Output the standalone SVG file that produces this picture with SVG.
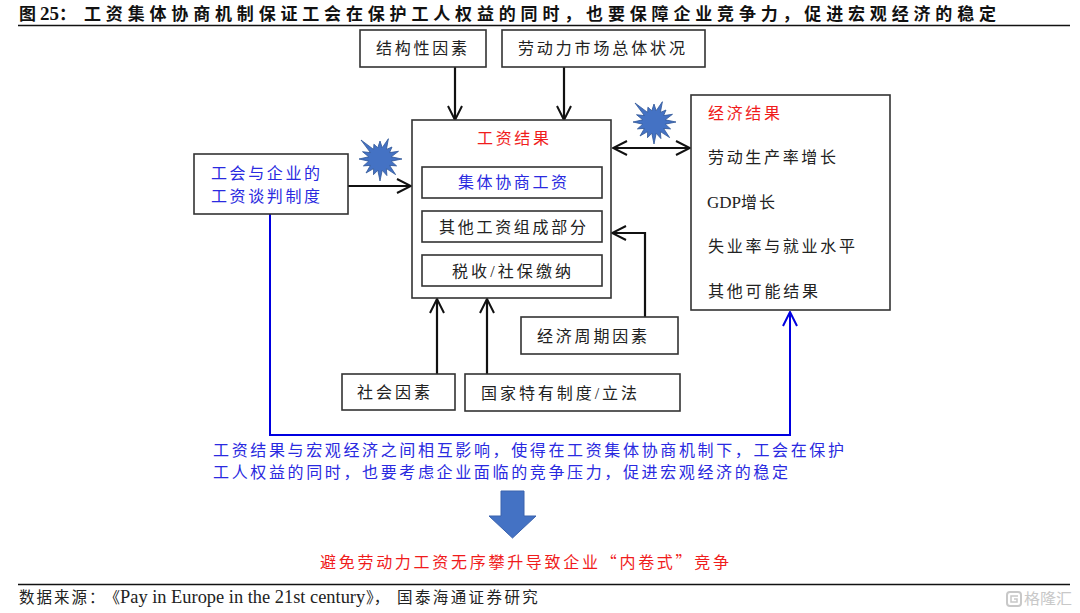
<svg xmlns="http://www.w3.org/2000/svg" xmlns:xlink="http://www.w3.org/1999/xlink" width="1080" height="613" viewBox="0 0 1080 613">
<style>
text{font-family:"Liberation Serif","Noto Sans CJK SC",serif;font-size:16px;fill:#222}
.title{font-size:17px;font-weight:700;fill:#111}
.box{fill:#fff;stroke:#333;stroke-width:1.6}
.blue{fill:#2a2ae0}.red{fill:#f01c1c}
.con{fill:none;stroke:#111;stroke-width:2.2}
.rule{stroke:#111;stroke-width:1.6}
.star{fill:#4472c4;stroke:#2f5597;stroke-width:.8}
.cjk{font-family:"Noto Sans CJK SC",sans-serif}
</style>
<defs>
<marker id="a" viewBox="0 0 16 16" refX="15" refY="8" markerWidth="16" markerHeight="16" markerUnits="userSpaceOnUse" orient="auto-start-reverse"><path d="M1 1L15 8L1 15" fill="none" stroke="#111" stroke-width="2"/></marker>
<marker id="b" viewBox="0 0 16 16" refX="15" refY="8" markerWidth="16" markerHeight="16" markerUnits="userSpaceOnUse" orient="auto"><path d="M1 1L15 8L1 15" fill="none" stroke="#0000e0" stroke-width="2"/></marker>
<polygon id="burst" class="star" points="22,0 11.3,2.2 16.6,6.9 9.6,6.4 15.6,15.6 6.4,9.6 6.9,16.6 2.2,11.3 0,22 -2.2,11.3 -6.5,15.7 -6.4,9.6 -14,14 -9.6,6.4 -16.6,6.9 -11.3,2.2 -21,0 -11.3,-2.2 -17.5,-7.3 -9.6,-6.4 -19,-19 -6.4,-9.6 -6.1,-14.8 -2.2,-11.3 0,-18 2.2,-11.3 8.4,-20.3 6.4,-9.6 12,-12 9.6,-6.4 18.5,-7.7 11.3,-2.2"/>
</defs>
<g id="header">
<text class="title" y="19.5"><tspan x="19">图</tspan><tspan x="40" style="font-size:19px">25</tspan><tspan x="59" class="cjk">&#xFF1A;</tspan></text>
<text class="title cjk" x="84" y="19.5" textLength="912" lengthAdjust="spacing">工资集体协商机制保证工会在保护工人权益的同时&#xFF0C;也要保障企业竞争力&#xFF0C;促进宏观经济的稳定</text>
<line class="rule" x1="18" y1="25.5" x2="1070" y2="25.5"/>
</g>
<g id="connectors">
<path class="con" d="M455 67V120" marker-end="url(#a)"/>
<path class="con" d="M564 67V120" marker-end="url(#a)"/>
<path class="con" d="M348 186H411" marker-end="url(#a)"/>
<path class="con" d="M613 148H690" marker-start="url(#a)" marker-end="url(#a)"/>
<path class="con" d="M645 317V233H612" marker-end="url(#a)"/>
<path class="con" d="M437 374V299" marker-end="url(#a)"/>
<path class="con" d="M487 374V299" marker-end="url(#a)"/>
<path d="M270 214V435H790V312" fill="none" stroke="#0000e0" stroke-width="2" marker-end="url(#b)"/>
</g>
<g id="n-structure"><rect class="box" x="360" y="30" width="126" height="37"/><text x="376" y="54" textLength="91" lengthAdjust="spacing">结构性因素</text></g>
<g id="n-labour"><rect class="box" x="502" y="30" width="203" height="37"/><text x="518" y="54" textLength="167" lengthAdjust="spacing">劳动力市场总体状况</text></g>
<g id="n-wage">
<rect class="box" x="412" y="120" width="199" height="178"/>
<text class="red" x="477" y="144" textLength="72" lengthAdjust="spacing">工资结果</text>
</g>
<g id="n-collective"><rect class="box" x="422" y="167" width="180" height="31"/><text class="blue" x="458" y="188" textLength="109" lengthAdjust="spacing">集体协商工资</text></g>
<g id="n-other"><rect class="box" x="422" y="211" width="180" height="31"/><text x="439" y="233" textLength="147" lengthAdjust="spacing">其他工资组成部分</text></g>
<g id="n-tax"><rect class="box" x="422" y="255" width="180" height="31"/><text x="452" y="277" textLength="119" lengthAdjust="spacing">税收/社保缴纳</text></g>
<g id="n-union">
<rect class="box" x="194" y="154" width="154" height="60"/>
<text class="blue" x="211" y="179" textLength="109" lengthAdjust="spacing">工会与企业的</text>
<text class="blue" x="211" y="202" textLength="109" lengthAdjust="spacing">工资谈判制度</text>
</g>
<g id="n-econ">
<rect class="box" x="691" y="95" width="199" height="215"/>
<text class="red" x="708" y="119" textLength="72" lengthAdjust="spacing">经济结果</text>
<text x="708" y="163" textLength="128" lengthAdjust="spacing">劳动生产率增长</text>
<text y="208"><tspan x="707" style="font-size:17px">GDP</tspan><tspan x="741">增</tspan><tspan x="759">长</tspan></text>
<text x="708" y="252" textLength="147" lengthAdjust="spacing">失业率与就业水平</text>
<text x="708" y="297" textLength="110" lengthAdjust="spacing">其他可能结果</text>
</g>
<g id="n-cycle"><rect class="box" x="521" y="317" width="157" height="37"/><text x="537" y="342" textLength="110" lengthAdjust="spacing">经济周期因素</text></g>
<g id="n-social"><rect class="box" x="342" y="374" width="113" height="36"/><text x="357" y="398" textLength="73" lengthAdjust="spacing">社会因素</text></g>
<g id="n-law"><rect class="box" x="465" y="374" width="215" height="37"/><text x="481" y="399" textLength="156" lengthAdjust="spacing">国家特有制度/立法</text></g>
<g id="bursts">
<use xlink:href="#burst" href="#burst" x="380" y="159"/>
<use xlink:href="#burst" href="#burst" x="654" y="122"/>
</g>
<g id="summary">
<text class="blue cjk" x="213" y="456" textLength="631" lengthAdjust="spacing">工资结果与宏观经济之间相互影响&#xFF0C;使得在工资集体协商机制下&#xFF0C;工会在保护</text>
<text class="blue cjk" x="213" y="478" textLength="575" lengthAdjust="spacing">工人权益的同时&#xFF0C;也要考虑企业面临的竞争压力&#xFF0C;促进宏观经济的稳定</text>
</g>
<polygon id="down-arrow" points="501,491 524,491 524,516 536,516 512.5,538 489,516 501,516" fill="#4472c4" stroke="#3a62ad" stroke-width="1"/>
<text id="conclusion" class="red cjk" x="320" y="568" textLength="409" lengthAdjust="spacing">避免劳动力工资无序攀升导致企业&#x201C;内卷式&#x201D;竞争</text>
<g id="footer">
<line class="rule" x1="18" y1="584.5" x2="1070" y2="584.5"/>
<text y="603" style="font-size:16px"><tspan x="19" class="cjk" letter-spacing="2" style="font-size:15.5px">数据来源</tspan><tspan x="89" class="cjk" style="font-size:15.5px">&#xFF1A;</tspan><tspan x="104.5" class="cjk" style="font-size:15.5px">《</tspan><tspan x="120" style="font-size:18.4px">Pay in Europe in the 21st century</tspan><tspan x="366" class="cjk" style="font-size:15.5px">》&#xFF0C;</tspan><tspan x="397" class="cjk" letter-spacing="2.4" style="font-size:15.5px">国泰海通证券研究</tspan></text>
<rect x="1007" y="592" width="14" height="14" rx="3" fill="none" stroke="#c8c8c8" stroke-width="2"/>
<path d="M1018 596H1011V602H1017V599H1014" fill="none" stroke="#c8c8c8" stroke-width="1.5"/>
<text class="cjk" x="1024" y="604" textLength="48" lengthAdjust="spacingAndGlyphs" style="font-size:15px;fill:#c8c8c8">格隆汇</text>
</g>
</svg>
